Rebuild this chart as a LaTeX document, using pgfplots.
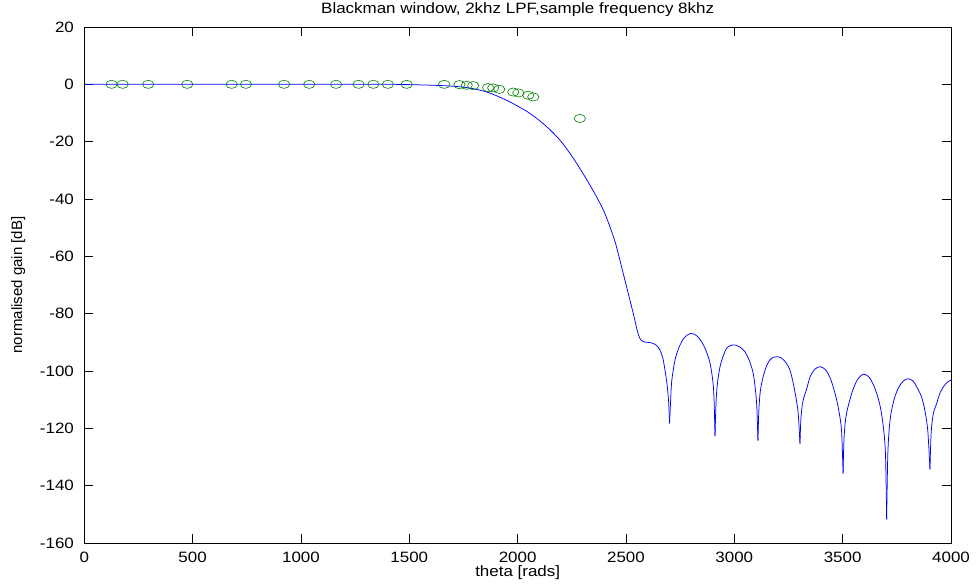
\documentclass[border=0pt]{standalone}
\usepackage{fontspec}
\setmainfont{Liberation Sans}
\usepackage{pgfplots}
\pgfplotsset{compat=1.18}
\definecolor{mgreen}{rgb}{0,0.5,0}
\pgfplotsset{resp/.style={blue, no marks, line width=0.75bp, smooth, tension=0.5}}
\begin{document}
\fontsize{15bp}{17bp}\selectfont
\begin{tikzpicture}
\path[use as bounding box] (-84.3bp,-45bp) rectangle (892.7bp,543bp);
\begin{axis}[
 scale only axis, width=866.7bp, height=516bp,
 at={(0,0)}, anchor=south west,
 xmin=0,xmax=4000,ymin=-160,ymax=20,
 xtick={0,500,...,4000}, ytick={-160,-140,...,20},
 tick align=inside, major tick length=9bp,
 /pgf/number format/assume math mode=true,
 /pgf/number format/1000 sep={},
 tick label style={font=\fontsize{15bp}{17bp}\selectfont, xscale=1.13},
 label style={font=\fontsize{15bp}{17bp}\selectfont},
 title style={font=\fontsize{15bp}{17bp}\selectfont, xscale=1.13, at={(axis description cs:0.5,1)}, anchor=center, yshift=11bp},
 title={Blackman window, 2khz LPF,sample frequency 8khz},
 xlabel={theta [rads]}, ylabel={normalised gain [dB]},
 xlabel style={at={(axis description cs:0.5,0)}, anchor=center, xscale=1.13, yshift=-30bp},
 ylabel style={at={(axis description cs:0,0.5)}, anchor=center, yshift=66bp},
 xticklabel style={anchor=center, yshift=-14bp},
 yticklabel style={anchor=east, inner sep=0pt, xshift=-9bp},
 axis line style={line width=0.8bp},
 every tick/.style={black, line width=0.8bp},
 clip=true,
]
\addplot[resp] coordinates {
(0,0) (500,0) (1000,0) (1400,0) (1500,-0.1) (1550,-0.2) (1600,-0.3) (1650,-0.45) (1700,-0.65)
(1750,-1.0) (1800,-1.6) (1850,-2.5) (1900,-3.9) (1950,-5.6) (2000,-7.6) (2050,-9.8)
(2100,-12.6) (2150,-15.9) (2200,-19.9) (2250,-25.0) (2300,-30.9) (2350,-37.3)
(2380,-41.5) (2400,-44.6) (2426,-49.7) (2450,-55.0) (2464,-59.0) (2480,-63.8) (2495,-68.3)
(2510,-72.8) (2526,-77.6) (2540,-82.0) (2549,-85.0) (2558,-87.5) (2568,-89.1) (2580,-89.8)
(2600,-90.0) (2618,-90.2) (2640,-91.0) (2657,-92.7) (2670,-95.5) (2680,-99.7) (2690,-105)
(2697,-111) (2701,-118.3)
};
\addplot[resp] coordinates {
(2701,-118.3) (2705,-112) (2710,-104.5) (2718,-99.7) (2730,-95) (2749,-91.0) (2770,-88.3)
(2798,-86.9) (2825,-87.6) (2849,-89.8) (2870,-93) (2888,-97.3) (2900,-103) (2906,-109)
(2911,-122.7)
};
\addplot[resp] coordinates {
(2911,-122.7) (2915,-112) (2921,-105) (2934,-98.5) (2950,-94.5) (2964,-92.1) (2980,-91.2)
(3000,-90.9) (3025,-91.6) (3049,-93.3) (3070,-96.5) (3087,-100.8) (3098,-107) (3104,-113)
(3109,-124.3)
};
\addplot[resp] coordinates {
(3109,-124.3) (3113,-114) (3120,-107) (3133,-102) (3150,-98) (3164,-96.2) (3180,-95.2)
(3198,-95.0) (3220,-95.6) (3240,-97.3) (3257,-99.7) (3272,-104.3) (3285,-109.5) (3295,-115)
(3303,-125.3)
};
\addplot[resp] coordinates {
(3303,-125.3) (3307,-117) (3314,-111.5) (3320,-109.5) (3334,-106.2) (3350,-102) (3370,-99.5)
(3395,-98.5) (3420,-99.5) (3440,-102) (3456,-105.5) (3472,-110) (3485,-115) (3495,-121)
(3502,-135.7)
};
\addplot[resp] coordinates {
(3502,-135.7) (3506,-124) (3515,-116) (3533,-110.1) (3550,-106) (3570,-102.8) (3595,-101.1)
(3620,-102) (3640,-104.5) (3657,-107.8) (3675,-113) (3690,-121) (3698,-130) (3703,-151.8)
};
\addplot[resp] coordinates {
(3703,-151.8) (3708,-130) (3715,-120) (3725,-114) (3741,-109.0) (3760,-105.5) (3780,-103.5)
(3802,-102.7) (3825,-103.5) (3845,-106) (3864,-109) (3880,-114) (3893,-121) (3903,-134.3)
};
\addplot[resp] coordinates {
(3903,-134.3) (3908,-122) (3918,-115) (3934,-111.3) (3950,-107.5) (3970,-105) (3985,-103.8)
(4000,-103.2)
};
\addplot[only marks, mgreen, mark=o, mark size=4.1bp, line width=0.6bp, mark options={xscale=1.38}] coordinates {
(126,0) (177,0) (295,0) (475,0) (680,0) (746,0) (922,0) (1038,0) (1162,0) (1266,0)
(1334,0) (1401,0) (1488,0) (1661,0) (1731,-0.1) (1765,-0.35) (1795,-0.45)
(1864,-1.15) (1887,-1.25) (1915,-1.75) (1980,-2.7) (2003,-3.0) (2049,-3.8) (2072,-4.4)
(2287,-11.9)
};
\end{axis}
\end{tikzpicture}
\end{document}
